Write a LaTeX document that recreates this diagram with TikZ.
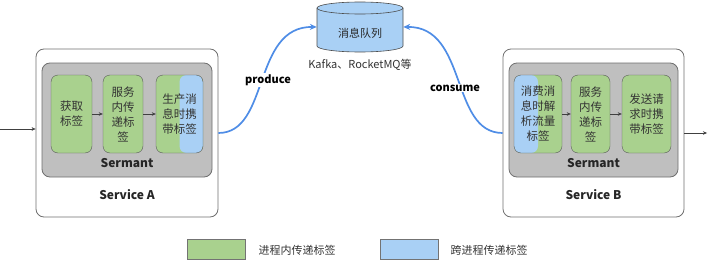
\documentclass[tikz,border=0pt]{standalone}
\usepackage{fontspec}
\setmainfont{Noto Sans CJK SC}
\usetikzlibrary{arrows.meta}
\definecolor{tagGreen}{HTML}{A9D18E}
\definecolor{tagBlue}{HTML}{A9D0F5}
\definecolor{flowBlue}{HTML}{4F8DE6}
\definecolor{frameGray}{HTML}{6F6F6F}
\definecolor{agentGray}{HTML}{BFBFBF}
\tikzset{
  service/.style={draw=frameGray,line width=0.8pt,fill=white,rounded corners=8pt,minimum height=168pt},
  agent/.style={draw=frameGray,line width=0.8pt,fill=agentGray,rounded corners=8pt,minimum height=114pt},
  tag/.style={draw=black!65,fill=tagGreen,rounded corners=7pt,minimum height=78pt,inner sep=1pt,
    align=center,text=black!80,font=\fontsize{11.5}{15}\selectfont},
  crosstag/.style={tag,path picture={\fill[tagBlue] (path picture bounding box.north) rectangle (path picture bounding box.south #1);}},
  caption/.style={font=\bfseries\fontsize{12}{14}\selectfont,text=black!85},
  hop/.style={draw=black!75,-{Stealth[length=4pt,width=3.5pt]}},
  flow/.style={draw=flowBlue,line width=1.7pt,-{Stealth[length=7pt,width=6pt]}},
  flowlbl/.style={fill=white,inner sep=1pt,font=\bfseries\fontsize{11}{13}\selectfont},
  cyl/.style={draw=black!70,fill=tagBlue,line width=0.6pt},
  key/.style={draw=black!55,minimum width=58pt,minimum height=20pt}
}

\begin{document}
\begin{tikzpicture}[x=1pt,y=-1pt]
  \useasboundingbox (0,0) rectangle (711,265);
  % service A
  \node[service,minimum width=182pt] (svcA) at (127,133) {};
  \node[agent,minimum width=170pt] (agentA) at (127,120) {};
  \node[tag,minimum width=41pt] (getA) at (71.5,114) {获取\\标签};
  \node[tag,minimum width=40pt] (passA) at (123,114) {服务\\内传\\递标\\签};
  \node[crosstag=east,minimum width=47pt] (sendA) at (179.5,114) {生产消\\息时携\\带标签};
  \node[caption] (agentAlbl) at (127,163) {Sermant};
  \node[caption] (svcAlbl) at (127,195) {Service A};
  \draw[hop] (getA) -- (passA);
  \draw[hop] (passA) -- (sendA);
  \coordinate (inA) at (0,129);
  \draw[hop] (inA) -- (inA -| svcA.west);

  % service B
  \node[service,minimum width=181pt] (svcB) at (593.5,133) {};
  \node[agent,minimum width=169pt] (agentB) at (593.5,120) {};
  \node[crosstag=west,minimum width=48pt] (recvB) at (538,114) {消费消\\息时解\\析流量\\标签};
  \node[tag,minimum width=39pt] (passB) at (590.5,114) {服务\\内传\\递标\\签};
  \node[tag,minimum width=49pt] (sendB) at (646.5,114) {发送请\\求时携\\带标签};
  \node[caption] (agentBlbl) at (593.5,163) {Sermant};
  \node[caption] (svcBlbl) at (593.5,195) {Service B};
  \draw[hop] (recvB) -- (passB);
  \draw[hop] (passB) -- (sendB);
  \coordinate (outB) at (707,133);
  \draw[hop] (svcB.east) -- (outB);

  % message queue
  \filldraw[cyl] (317,8) -- (317,46) arc[start angle=180,end angle=0,x radius=43,y radius=6]
    -- (403,8) arc[start angle=0,end angle=-180,x radius=43,y radius=6] -- cycle;
  \draw[cyl,fill=none] (317,8) arc[start angle=180,end angle=0,x radius=43,y radius=6];
  \node[minimum width=86pt,minimum height=50pt,inner sep=0pt] (queue) at (360,27) {};
  \node[font=\fontsize{11}{13}\selectfont,text=black!85] (queuelbl) at (360,33) {消息队列};
  \node[font=\fontsize{11}{13}\selectfont,text=black!80] (mqlbl) at (360,65) {Kafka、RocketMQ等};
  \draw[flow] (svcA.east) .. controls (270,133) and (252,26) .. (queue.west);
  \draw[flow] (svcB.west) .. controls (450,133) and (468,26) .. (queue.east);
  \node[flowlbl] (prodlbl) at (268,80) {produce};
  \node[flowlbl] (conslbl) at (455,88) {consume};

  % legend
  \node[key,fill=tagGreen] (keyIn) at (216,249) {};
  \node[anchor=west,font=\fontsize{11}{13}\selectfont,text=black!80] (keyInlbl) at (255,250) {进程内传递标签};
  \node[key,fill=tagBlue] (keyX) at (409,249) {};
  \node[anchor=west,font=\fontsize{11}{13}\selectfont,text=black!80] (keyXlbl) at (447,250) {跨进程传递标签};
\end{tikzpicture}
\end{document}
